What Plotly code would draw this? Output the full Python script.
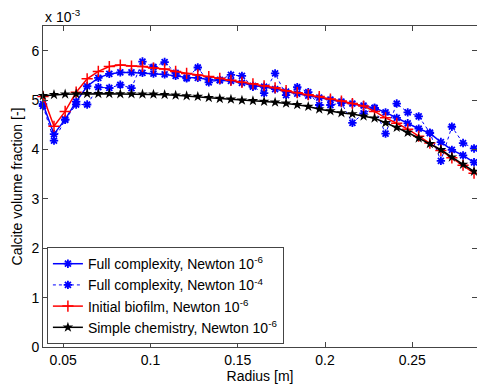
import plotly.graph_objects as go

# Radius [m]
radius = [0.0384, 0.0447, 0.0511, 0.0574, 0.0637, 0.0701, 0.0764, 0.0827, 0.0891, 0.0954,
          0.1017, 0.1081, 0.1144, 0.1207, 0.1271, 0.1334, 0.1397, 0.1461, 0.1524, 0.1587,
          0.1651, 0.1714, 0.1777, 0.1841, 0.1904, 0.1967, 0.2031, 0.2094, 0.2157, 0.2221,
          0.2284, 0.2347, 0.2411, 0.2474, 0.2537, 0.2601, 0.2664, 0.2727, 0.2791, 0.2854]

# Calcite volume fraction, in units of 1e-3
full_1e6 = [4.92, 4.31, 4.61, 4.97, 5.28, 5.45, 5.53, 5.56, 5.56, 5.55,
            5.535, 5.52, 5.49, 5.455, 5.45, 5.414, 5.40, 5.387, 5.35, 5.29,
            5.27, 5.22, 5.17, 5.13, 5.09, 5.05, 5.01, 4.97, 4.93, 4.89,
            4.84, 4.75, 4.64, 4.53, 4.42, 4.33, 4.15, 3.99, 3.88, 3.74]

full_1e4 = [4.88, 4.18, 4.60, 4.91, 4.91, 5.26, 5.245, 5.31, 5.24, 5.78,
            5.67, 5.77, 5.55, 5.44, 5.66, 5.36, 5.41, 5.51, 5.49, 5.27,
            5.14, 5.54, 5.10, 5.26, 5.16, 4.90, 4.90, 4.94, 4.54, 4.73,
            4.84, 4.32, 4.93, 4.75, 4.67, 4.34, 3.77, 4.46, 4.13, 4.02]

biofilm = [5.07, 4.47, 4.77, 5.16, 5.43, 5.58, 5.68, 5.71, 5.69, 5.68,
           5.65, 5.63, 5.58, 5.54, 5.51, 5.475, 5.44, 5.40, 5.36, 5.33,
           5.29, 5.25, 5.19, 5.15, 5.11, 5.07, 5.02, 4.98, 4.93, 4.88,
           4.77, 4.64, 4.53, 4.41, 4.27, 4.13, 3.98, 3.83, 3.68, 3.52]

simple = [5.09, 5.11, 5.12, 5.125, 5.13, 5.13, 5.13, 5.125, 5.125, 5.12,
          5.117, 5.11, 5.097, 5.084, 5.071, 5.05, 5.03, 5.016, 4.996, 4.985,
          4.97, 4.955, 4.935, 4.905, 4.87, 4.815, 4.78, 4.74, 4.72, 4.675,
          4.633, 4.54, 4.444, 4.343, 4.229, 4.115, 3.994, 3.845, 3.697, 3.556]

x_ticks = [0.05, 0.1, 0.15, 0.2, 0.25]
x_tick_labels = ["0.05", "0.1", "0.15", "0.2", "0.25"]
y_ticks = [0, 1, 2, 3, 4, 5, 6]
y_tick_labels = ["0", "1", "2", "3", "4", "5", "6"]

FONT = "Liberation Sans, Arial, Helvetica, sans-serif"
AX = "#444444"
FS = 14

fig = go.Figure()
fig.add_trace(go.Scatter(
    x=radius, y=full_1e6, mode="lines+markers", legendgroup="a",
    name="Full complexity, Newton 10<sup>-6</sup>",
    line=dict(color="#0000ff", width=1.5),
    marker=dict(symbol="asterisk-open", size=7, color="#0000ff",
                line=dict(color="#0000ff", width=1.8)),
    cliponaxis=False))
fig.add_trace(go.Scatter(
    x=radius, y=full_1e4, mode="lines+markers", legendgroup="b",
    name="Full complexity, Newton 10<sup>-4</sup>",
    line=dict(color="#0000ff", width=1, dash="dot"),
    marker=dict(symbol="asterisk-open", size=7, color="#0000ff",
                line=dict(color="#0000ff", width=1.8)),
    cliponaxis=False))
fig.add_trace(go.Scatter(
    x=radius, y=biofilm, mode="lines+markers", legendgroup="c",
    name="Initial biofilm, Newton 10<sup>-6</sup>",
    line=dict(color="#ff0000", width=1.5),
    marker=dict(symbol="cross-thin-open", size=8, color="#ff0000",
                line=dict(color="#ff0000", width=1.5)),
    cliponaxis=False))
fig.add_trace(go.Scatter(
    x=radius, y=simple, mode="lines+markers", legendgroup="d",
    name="Simple chemistry, Newton 10<sup>-6</sup>",
    line=dict(color="#000000", width=1.5),
    marker=dict(symbol="star", size=8, color="#000000"),
    cliponaxis=False))

fig.update_layout(
    width=477, height=385,
    margin=dict(l=43, r=0, t=26, b=38),
    paper_bgcolor="white", plot_bgcolor="white",
    font=dict(family=FONT, size=FS, color="black"),
    showlegend=True,
    legend=dict(x=0.009, y=0.009, xanchor="left", yanchor="bottom",
                bgcolor="white", bordercolor=AX, borderwidth=1,
                font=dict(family=FONT, size=FS, color="black"),
                itemwidth=30, tracegroupgap=5, traceorder="normal"),
    xaxis=dict(range=[0.0384, 0.2871], tickvals=x_ticks, ticktext=x_tick_labels,
               showgrid=False, zeroline=False, showline=True, linecolor=AX,
               linewidth=1, mirror="ticks", ticks="inside", ticklen=5,
               tickcolor=AX, tickfont=dict(size=FS),
               title=dict(text="Radius [m]", standoff=2, font=dict(size=FS))),
    yaxis=dict(range=[0, 6.5], tickvals=y_ticks, ticktext=y_tick_labels,
               showgrid=False, zeroline=False, showline=True, linecolor=AX,
               linewidth=1, mirror="ticks", ticks="inside", ticklen=5,
               tickcolor=AX, tickfont=dict(size=FS),
               title=dict(text="Calcite volume fraction [-]", standoff=5,
                          font=dict(size=FS))),
)
fig.add_annotation(xref="paper", yref="paper", x=0, y=1, xanchor="left",
                   yanchor="bottom", yshift=-1, showarrow=False,
                   text="x 10<sup>-3</sup>", font=dict(size=FS, family=FONT))

fig.write_html("out.html", config={"displayModeBar": False},
               post_script="document.body.style.margin='0';document.body.style.padding='0';")
